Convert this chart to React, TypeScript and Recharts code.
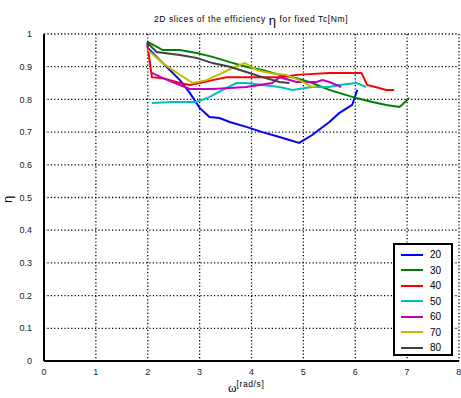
import { LineChart, Line, XAxis, YAxis, CartesianGrid } from "recharts";

const xTicks = [0, 1, 2, 3, 4, 5, 6, 7, 8];
const yTicks = [0, 0.1, 0.2, 0.3, 0.4, 0.5, 0.6, 0.7, 0.8, 0.9, 1];

// slices, [omega, eta]
const s20 = [
  [2.0, 0.976], [2.0, 0.957], [2.29, 0.911], [2.62, 0.859], [2.81, 0.82], [3.0, 0.774],
  [3.19, 0.746], [3.38, 0.743], [3.58, 0.731], [3.9, 0.716], [4.21, 0.7], [4.54, 0.685],
  [4.92, 0.667], [5.17, 0.691], [5.5, 0.731], [5.69, 0.758], [5.94, 0.783], [6.04, 0.829],
];
const s30 = [
  [2.0, 0.976], [2.29, 0.951], [2.62, 0.951], [2.94, 0.942], [3.25, 0.93], [3.58, 0.914],
  [3.9, 0.9], [4.21, 0.89], [4.54, 0.875], [4.87, 0.865], [5.17, 0.85], [5.5, 0.829],
  [5.69, 0.82], [6.02, 0.804], [6.33, 0.792], [6.6, 0.783], [6.85, 0.777], [6.9, 0.783],
  [7.04, 0.804],
];
const s40 = [
  [1.99, 0.972], [2.08, 0.868], [2.29, 0.865], [2.62, 0.85], [2.81, 0.844], [3.0, 0.85],
  [3.25, 0.859], [3.52, 0.868], [3.9, 0.868], [4.21, 0.868], [4.54, 0.868], [4.87, 0.875],
  [5.5, 0.881], [6.12, 0.881], [6.23, 0.844], [6.46, 0.835], [6.6, 0.829], [6.75, 0.829],
];
const s50 = [
  [2.08, 0.789], [2.48, 0.792], [2.94, 0.792], [3.19, 0.807], [3.44, 0.829], [3.71, 0.85],
  [3.9, 0.85], [4.21, 0.844], [4.54, 0.838], [4.79, 0.829], [5.17, 0.838], [5.5, 0.838],
  [5.69, 0.844], [6.02, 0.85], [6.21, 0.838],
];
const s60 = [
  [2.08, 0.881], [2.29, 0.865], [2.62, 0.844], [2.81, 0.832], [3.25, 0.832], [3.9, 0.838],
  [4.4, 0.85], [4.54, 0.868], [4.87, 0.853], [5.25, 0.853], [5.37, 0.859], [5.5, 0.853],
  [5.73, 0.838],
];
const s70 = [
  [2.0, 0.951], [2.29, 0.911], [2.62, 0.875], [2.87, 0.85], [3.13, 0.859], [3.44, 0.881],
  [3.63, 0.896], [3.87, 0.911], [4.1, 0.89], [4.35, 0.881], [4.67, 0.875], [4.92, 0.859],
  [5.17, 0.838], [5.25, 0.841],
];
const s80 = [
  [2.0, 0.972], [2.17, 0.945], [2.62, 0.936], [2.94, 0.927], [3.25, 0.911], [3.58, 0.9],
  [3.9, 0.884], [4.21, 0.868], [4.54, 0.853], [4.73, 0.85],
];

const seriesNames = ["20", "30", "40", "50", "60", "70", "80"];
const seriesData = [s20, s30, s40, s50, s60, s70, s80];
const COLORS = ["#0000ff", "#008000", "#ff0000", "#00bfbf", "#bf00bf", "#bfbf00", "#404040"];

const FONT = "Arial, 'Liberation Sans', sans-serif";

function LegendBox() {
  return (
    <div
      style={{
        position: "absolute",
        left: 393,
        top: 243,
        border: "2px solid #000",
        background: "#fff",
        width: 56,
        height: 107,
        paddingTop: 2,
        fontFamily: FONT,
        fontSize: 10,
        color: "#000",
      }}
    >
      {seriesNames.map((name, i) => (
        <div key={name} style={{ display: "flex", alignItems: "center", height: 15.5 }}>
          <span
            style={{
              display: "inline-block",
              marginLeft: 6,
              width: 22,
              height: 2,
              background: COLORS[i],
            }}
          />
          <span style={{ marginLeft: 7 }}>{name}</span>
        </div>
      ))}
    </div>
  );
}

export default function App() {
  return (
    <div style={{ position: "absolute", left: 0, top: 0, width: 461, height: 398, background: "#fff" }}>
      <LineChart width={461} height={398} margin={{ top: 34, right: 2, bottom: 0, left: 10 }}>
        <CartesianGrid stroke="#000" strokeDasharray="1.2 2.2" strokeWidth={1.3} />
        <XAxis
          type="number"
          dataKey="x"
          domain={[0, 8]}
          ticks={xTicks}
          height={37}
          axisLine={{ stroke: "#000", strokeWidth: 2 }}
          tickLine={false}
          tick={{ fontSize: 9, fill: "#222", fontFamily: FONT }}
          tickMargin={2}
          allowDuplicatedCategory={false}
        />
        <YAxis
          type="number"
          domain={[0, 1]}
          ticks={yTicks}
          width={34}
          axisLine={{ stroke: "#000", strokeWidth: 2 }}
          tickLine={false}
          tick={{ fontSize: 9, fill: "#222", fontFamily: FONT }}
          tickFormatter={(v: number) => String(Math.round(v * 10) / 10)}
          tickMargin={6}
        />
        {seriesData.map((pts, i) => (
          <Line
            key={seriesNames[i]}
            name={seriesNames[i]}
            data={pts.map(([x, y]) => ({ x, y }))}
            dataKey="y"
            stroke={COLORS[i]}
            strokeWidth={2}
            dot={false}
            isAnimationActive={false}
            type="linear"
          />
        ))}
      </LineChart>

      <div
        style={{
          position: "absolute",
          left: 0,
          width: 502,
          top: 10,
          textAlign: "center",
          fontFamily: FONT,
          fontSize: 8.5,
          letterSpacing: 0.6,
          color: "#000",
        }}
      >
        2D slices of the efficiency <span style={{ fontSize: 13, position: "relative", top: 3 }}>η</span> for fixed Tc[Nm]
      </div>

      <div
        style={{
          position: "absolute",
          left: 4,
          top: 192,
          fontFamily: FONT,
          fontSize: 13,
          color: "#000",
          transform: "rotate(-90deg)",
        }}
      >
        η
      </div>

      <LegendBox />

      <div
        style={{
          position: "absolute",
          left: 228,
          top: 378,
          fontFamily: FONT,
          color: "#000",
          whiteSpace: "nowrap",
        }}
      >
        <span style={{ fontSize: 13, fontFamily: "'Liberation Serif', serif" }}>ω</span>
        <span style={{ fontSize: 8.5, letterSpacing: 0.6, position: "relative", top: -5 }}>[rad/s]</span>
      </div>
    </div>
  );
}
